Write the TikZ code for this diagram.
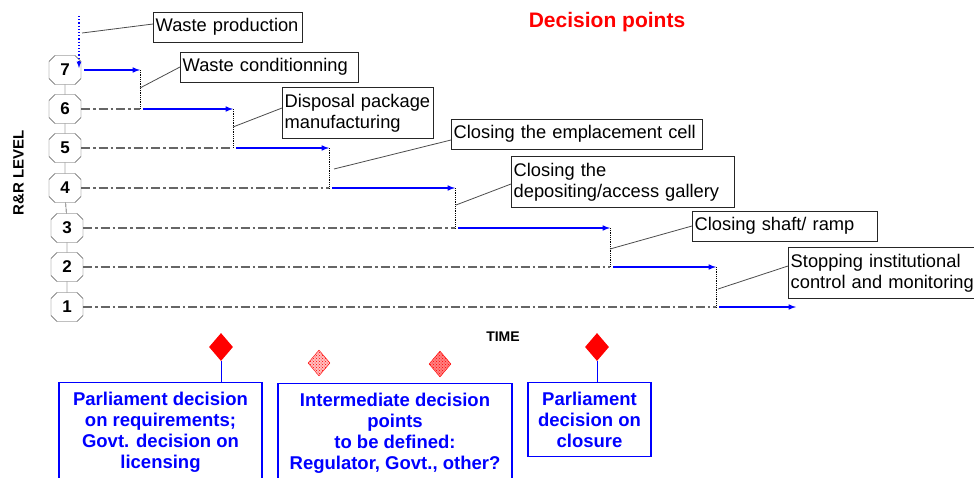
\documentclass[tikz,border=0pt]{standalone}
\usepackage{fontspec}
\setmainfont{Liberation Sans}
\usetikzlibrary{shapes.misc,shapes.geometric,patterns}

\tikzset{
	level/.style={draw=black!70,fill=white,chamfered rectangle,
		chamfered rectangle xsep=3pt,chamfered rectangle ysep=3pt,
		minimum width=32pt,minimum height=29pt,inner sep=0pt,
		font=\fontsize{17}{17}\selectfont\bfseries},
	stage/.style={draw=black!85,fill=white,anchor=west,align=left,
		inner xsep=2.5pt,inner ysep=6.5pt,
		execute at begin node={\hyphenpenalty=10000\exhyphenpenalty=10000},
		font=\fontsize{18.3}{21}\selectfont},
	verdict/.style={draw=blue,line width=1.2pt,text=blue,anchor=north,
		align=center,inner ysep=9pt,
		font=\fontsize{18.5}{21}\selectfont\bfseries},
	rise/.style={blue,line width=1.5pt,-latex,shorten <=3pt},
	lag/.style={black!60,line width=1.3pt,
		dash pattern=on 9pt off 3pt on 2.5pt off 3pt},
	drop/.style={black,densely dotted,line width=0.8pt},
	leader/.style={black!70,line width=0.8pt},
	gate/.style={diamond,fill=red,minimum width=24pt,minimum height=28pt,inner sep=0pt},
	pending/.style={diamond,draw=red,pattern=crosshatch dots,pattern color=red,
		minimum width=22pt,minimum height=26pt,inner sep=0pt}
}

\begin{document}
\begin{tikzpicture}[x=1pt,y=-1pt]
	\useasboundingbox (0,0) rectangle (974,477);
	\clip (0,0) rectangle (974,477);

	% R&R levels
	\path
		  (65,70)  node[level] (l7) {7}
		++(0,39)   node[level] (l6) {6}
		++(0,39)   node[level] (l5) {5}
		++(0,40)   node[level] (l4) {4}
		++(2,40)   node[level] (l3) {3}
		++(0,39)   node[level] (l2) {2}
		++(0,40)   node[level] (l1) {1}
	;
	\draw (l7) -- (l6) -- (l5) -- (l4) -- (l3) -- (l2) -- (l1);
	\node[rotate=90,font=\fontsize{15}{15}\selectfont\bfseries] (axis) at (18.5,173) {R\&R LEVEL};

	% steps
	\coordinate (src) at (79,16);  \coordinate (lnd) at (79,68);
	\coordinate (t7) at (140,70);  \coordinate (b7) at (140,109);
	\coordinate (t6) at (233,109); \coordinate (b6) at (233,148);
	\coordinate (t5) at (329,148); \coordinate (b5) at (329,188);
	\coordinate (t4) at (455,188); \coordinate (b4) at (455,228);
	\coordinate (t3) at (610,228); \coordinate (b3) at (610,267);
	\coordinate (t2) at (716,267); \coordinate (b2) at (716,307);
	\coordinate (fin) at (796,307);

	\draw[blue,dotted,line width=1.2pt,-latex] (src) -- (lnd);
	\draw[rise] (l7.east) -- (t7);
	\draw[rise] (b7) -- (t6);
	\draw[rise] (b6) -- (t5);
	\draw[rise] (b5) -- (t4);
	\draw[rise] (b4) -- (t3);
	\draw[rise] (b3) -- (t2);
	\draw[rise] (b2) -- (fin);

	\draw[drop] (t7) -- (b7);
	\draw[drop] (t6) -- (b6);
	\draw[drop] (t5) -- (b5);
	\draw[drop] (t4) -- (b4);
	\draw[drop] (t3) -- (b3);
	\draw[drop] (t2) -- (b2);

	\draw[lag] (l6.east) -- (b7);
	\draw[lag] (l5.east) -- (b6);
	\draw[lag] (l4.east) -- (b5);
	\draw[lag] (l3.east) -- (b4);
	\draw[lag] (l2.east) -- (b3);
	\draw[lag] (l1.east) -- (b2);

	% stage labels
	\node[stage,text width=144pt] (wprod) at (153,27)  {Waste production};
	\node[stage,text width=173pt] (wcond) at (180,67)  {Waste conditionning};
	\node[stage,text width=146pt] (dpack) at (282,113) {Disposal package\\manufacturing};
	\node[stage,text width=246pt] (ecell) at (451,134) {Closing the emplacement cell};
	\node[stage,text width=218pt] (galry) at (511,182) {Closing the\\depositing/access gallery};
	\node[stage,text width=180pt] (shaft) at (692,226) {Closing shaft/ ramp};
	\node[stage,text width=192pt] (instc) at (788,273) {Stopping institutional\\control and monitoring};

	\coordinate (k0) at (82,33);
	\coordinate (k7) at (140,88);
	\coordinate (k6) at (233,127);
	\coordinate (k5) at (334,169);
	\coordinate (k4) at (456,205);
	\coordinate (k3) at (610,249);
	\coordinate (k2) at (718,289);
	\draw[leader] ([yshift=3pt]wprod.west) -- (k0);
	\draw[leader] (wcond.west) -- (k7);
	\draw[leader] ([yshift=5pt]dpack.west) -- (k6);
	\draw[leader] ([yshift=-6pt]ecell.west) -- (k5);
	\draw[leader] ([yshift=-2pt]galry.west) -- (k4);
	\draw[leader] (shaft.west) -- (k3);
	\draw[leader] ([yshift=7pt]instc.west) -- (k2);

	\node[text=red,font=\fontsize{21}{24}\selectfont\bfseries] (title) at (607,22) {Decision points};
	\node[font=\fontsize{14}{14}\selectfont\bfseries] (time) at (503,337) {TIME};

	% decision points
	\node[gate] (dm1) at (221,347) {};
	\node[pending,preaction={fill=red!25}] (dm2) at (319,363) {};
	\node[pending,preaction={fill=red!50}] (dm3) at (440,364) {};
	\node[gate] (dm4) at (597,347) {};

	\node[verdict,minimum width=203pt] (pdreq) at (160.5,382)
		{Parliament decision\\on requirements;\\Govt. decision on\\licensing};
	\node[verdict,minimum width=234pt] (inter) at (395,383)
		{Intermediate decision\\points\\to be defined:\\Regulator, Govt., other?};
	\node[verdict,minimum width=123pt] (pdclo) at (589.5,382)
		{Parliament\\decision on\\closure};

	\draw[blue] (dm1.south) -- (dm1.south |- pdreq.north);
	\draw[blue] (dm4.south) -- (dm4.south |- pdclo.north);
\end{tikzpicture}
\end{document}
